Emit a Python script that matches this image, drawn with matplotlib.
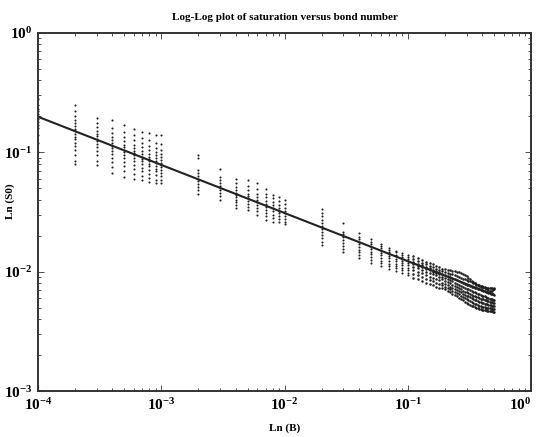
import matplotlib
matplotlib.use("Agg")
from matplotlib import pyplot as plt

# fitted line (end points)
line_b = [1e-4, 0.5]
line_s0 = [0.198, 0.0064]

# vertical clusters of points, one per bond number
cluster_b = [1e-4, 2e-4, 3e-4, 4e-4, 5e-4, 6e-4, 7e-4, 8e-4, 9e-4, 1e-3,
             2e-3, 3e-3, 4e-3, 5e-3, 6e-3, 7e-3, 8e-3, 9e-3, 1e-2,
             0.02, 0.03, 0.04, 0.05, 0.06, 0.07, 0.08, 0.09, 0.1]
cluster_s0 = [
    [0.085, 0.10, 0.12, 0.14, 0.16, 0.17, 0.18, 0.19, 0.20, 0.21, 0.22, 0.23, 0.25, 0.28],
    [0.079, 0.085, 0.094, 0.104, 0.112, 0.120, 0.128, 0.135, 0.142, 0.150, 0.157, 0.165, 0.174, 0.185, 0.20, 0.22, 0.248],
    [0.078, 0.085, 0.094, 0.102, 0.110, 0.117, 0.124, 0.130, 0.136, 0.143, 0.152, 0.163, 0.176, 0.193],
    [0.067, 0.075, 0.083, 0.090, 0.097, 0.103, 0.108, 0.113, 0.119, 0.126, 0.134, 0.145, 0.160, 0.186],
    [0.062, 0.069, 0.076, 0.083, 0.089, 0.095, 0.100, 0.105, 0.110, 0.116, 0.123, 0.133, 0.148, 0.168],
    [0.060, 0.066, 0.072, 0.078, 0.084, 0.089, 0.094, 0.098, 0.103, 0.109, 0.116, 0.126, 0.140, 0.156],
    [0.058, 0.063, 0.069, 0.074, 0.079, 0.084, 0.088, 0.092, 0.097, 0.103, 0.110, 0.120, 0.132, 0.147],
    [0.056, 0.061, 0.066, 0.071, 0.076, 0.080, 0.084, 0.088, 0.092, 0.097, 0.104, 0.113, 0.126, 0.144],
    [0.055, 0.059, 0.064, 0.069, 0.073, 0.077, 0.081, 0.085, 0.089, 0.094, 0.100, 0.108, 0.120, 0.139],
    [0.055, 0.059, 0.063, 0.067, 0.071, 0.075, 0.078, 0.082, 0.086, 0.091, 0.097, 0.105, 0.118, 0.139],
    [0.045, 0.048, 0.051, 0.054, 0.057, 0.060, 0.063, 0.067, 0.071, 0.090, 0.094],
    [0.040, 0.043, 0.046, 0.048, 0.050, 0.052, 0.055, 0.058, 0.062, 0.072],
    [0.034, 0.036, 0.038, 0.040, 0.042, 0.044, 0.046, 0.048, 0.051, 0.055, 0.060],
    [0.033, 0.035, 0.037, 0.039, 0.041, 0.043, 0.045, 0.048, 0.052, 0.058],
    [0.030, 0.032, 0.034, 0.036, 0.038, 0.040, 0.042, 0.045, 0.049, 0.055],
    [0.027, 0.029, 0.031, 0.033, 0.035, 0.037, 0.039, 0.042, 0.045, 0.049],
    [0.026, 0.028, 0.030, 0.032, 0.034, 0.036, 0.038, 0.041, 0.044],
    [0.026, 0.0275, 0.029, 0.031, 0.0325, 0.034, 0.036, 0.039, 0.042],
    [0.025, 0.026, 0.0275, 0.029, 0.031, 0.0325, 0.034, 0.037, 0.040],
    [0.0166, 0.0178, 0.019, 0.0202, 0.0215, 0.0228, 0.024, 0.0255, 0.027, 0.029, 0.031, 0.0334],
    [0.0145, 0.0155, 0.0165, 0.0175, 0.0185, 0.0195, 0.0205, 0.0215, 0.0254],
    [0.0129, 0.0137, 0.0145, 0.0153, 0.0161, 0.0169, 0.0177, 0.0186, 0.0196, 0.0209],
    [0.0119, 0.0126, 0.0133, 0.014, 0.0147, 0.0154, 0.0162, 0.017, 0.0178, 0.0186],
    [0.0112, 0.0118, 0.0124, 0.013, 0.0137, 0.0144, 0.015, 0.0157, 0.0164, 0.0171],
    [0.0106, 0.0111, 0.0117, 0.0123, 0.0129, 0.0135, 0.0141, 0.0147, 0.0153, 0.0159],
    [0.0102, 0.0107, 0.0112, 0.0117, 0.0122, 0.0128, 0.0134, 0.0139, 0.0145, 0.015],
    [0.0098, 0.0103, 0.0108, 0.0113, 0.0118, 0.0123, 0.0128, 0.0133, 0.0139, 0.0144],
    [0.0093, 0.0098, 0.0103, 0.0108, 0.0113, 0.0118, 0.0122, 0.0127, 0.0133, 0.0139],
]

# dense tail above B = 0.1, eight point tracks (S0 in units of 1e-3)
tail_b = [0.11, 0.12, 0.13, 0.14, 0.15, 0.16, 0.17, 0.18, 0.19, 0.20,
          0.21, 0.22, 0.23, 0.24, 0.25, 0.26, 0.27, 0.28, 0.29, 0.30,
          0.31, 0.32, 0.33, 0.34, 0.35, 0.36, 0.37, 0.38, 0.39, 0.40,
          0.41, 0.42, 0.43, 0.44, 0.45, 0.46, 0.47, 0.48, 0.49, 0.50]
tail_s0_milli = [
    [13.4, 12.9, 12.5, 12.1, 11.8, 11.5, 11.2, 11.0, 10.6, 10.5,
     10.4, 10.3, 10.2, 10.1, 10.0, 9.9, 9.75, 9.6, 9.4, 9.2,
     8.9, 8.6, 8.4, 8.2, 8.0, 7.8, 7.7, 7.6, 7.5, 7.4,
     7.4, 7.35, 7.35, 7.3, 7.3, 7.3, 7.25, 7.25, 7.2, 7.2],
    [12.7, 12.2, 11.9, 11.5, 11.2, 10.9, 10.6, 10.4, 10.1, 9.9,
     9.7, 9.6, 9.5, 9.35, 9.2, 9.05, 8.9, 8.75, 8.6, 8.5,
     8.4, 8.3, 8.2, 8.1, 8.0, 7.9, 7.8, 7.7, 7.65, 7.6,
     7.5, 7.4, 7.3, 7.1, 7.0, 6.9, 6.85, 6.9, 7.1, 7.3],
    [12.1, 11.7, 11.3, 11.0, 10.7, 10.4, 10.1, 9.9, 9.6, 9.4,
     9.2, 9.0, 8.8, 8.6, 8.45, 8.3, 8.15, 8.0, 7.9, 7.8,
     7.7, 7.6, 7.5, 7.4, 7.35, 7.3, 7.2, 7.1, 7.05, 7.0,
     6.9, 6.85, 6.8, 6.7, 6.65, 6.6, 6.55, 6.5, 6.45, 6.4],
    [11.6, 11.2, 10.9, 10.5, 10.3, 10.0, 9.75, 9.5, 9.1, 8.9,
     8.7, 8.5, 8.3, 8.1, 7.95, 7.8, 7.65, 7.5, 7.35, 7.2,
     7.1, 7.0, 6.9, 6.8, 6.7, 6.6, 6.5, 6.45, 6.35, 6.3,
     6.25, 6.2, 6.1, 6.05, 6.0, 5.95, 5.9, 5.85, 5.8, 5.8],
    [11.0, 10.7, 10.3, 10.0, 9.7, 9.5, 9.3, 9.05, 8.6, 8.4,
     8.2, 8.0, 7.8, 7.6, 7.4, 7.25, 7.1, 6.95, 6.8, 6.7,
     6.6, 6.5, 6.4, 6.3, 6.2, 6.15, 6.1, 6.0, 5.95, 5.9,
     5.85, 5.8, 5.75, 5.7, 5.65, 5.6, 5.6, 5.55, 5.5, 5.5],
    [10.3, 10.0, 9.7, 9.4, 9.1, 8.9, 8.7, 8.5, 8.1, 7.9,
     7.7, 7.5, 7.3, 7.15, 7.0, 6.85, 6.7, 6.55, 6.4, 6.3,
     6.2, 6.1, 6.0, 5.9, 5.8, 5.75, 5.7, 5.6, 5.55, 5.5,
     5.45, 5.4, 5.4, 5.35, 5.3, 5.3, 5.25, 5.2, 5.2, 5.2],
    [9.6, 9.3, 9.0, 8.7, 8.5, 8.3, 8.1, 7.9, 7.7, 7.5,
     7.3, 7.1, 6.9, 6.75, 6.6, 6.45, 6.3, 6.15, 6.0, 5.9,
     5.8, 5.7, 5.6, 5.5, 5.4, 5.35, 5.3, 5.2, 5.15, 5.1,
     5.1, 5.05, 5.0, 5.0, 5.0, 4.95, 4.95, 4.9, 4.9, 4.9],
    [8.9, 8.6, 8.3, 8.1, 7.9, 7.7, 7.5, 7.3, 7.3, 7.1,
     6.9, 6.7, 6.5, 6.35, 6.2, 6.05, 5.9, 5.75, 5.6, 5.5,
     5.4, 5.3, 5.2, 5.15, 5.1, 5.0, 4.95, 4.9, 4.85, 4.8,
     4.8, 4.75, 4.75, 4.7, 4.7, 4.7, 4.65, 4.65, 4.6, 4.6],
]

x_ticks = [1e-4, 1e-3, 1e-2, 1e-1, 1]
x_ticklabels = ['$\\mathdefault{10^{-4}}$', '$\\mathdefault{10^{-3}}$',
                '$\\mathdefault{10^{-2}}$', '$\\mathdefault{10^{-1}}$',
                '$\\mathdefault{10^{0}}$']

plt.rcParams['font.family'] = ['Liberation Serif', 'DejaVu Serif']
plt.rcParams['font.weight'] = 'bold'

fig = plt.figure(figsize=(5.37, 4.37), dpi=100, facecolor='white')
ax = fig.add_axes([0.071, 0.105, 0.918, 0.82])

dot = dict(linestyle='none', marker='.', markersize=3.0, color='#1e1e1e',
           markeredgewidth=0)
for b, s0 in zip(cluster_b, cluster_s0):
    ax.plot([b] * len(s0), s0, **dot)
for track in tail_s0_milli:
    ax.plot(tail_b, [v * 1e-3 for v in track], **dict(dot, markersize=3.6))

ax.plot(line_b, line_s0, color='#222222', linewidth=1.5)

ax.set_xscale('log')
ax.set_yscale('log')
ax.set_xlim(1e-4, 1)
ax.set_ylim(1e-3, 1)
ax.set_xticks(x_ticks, labels=x_ticklabels)
ax.get_xticklabels()[-1].set_horizontalalignment('right')

ax.tick_params(which='both', direction='in', top=True, right=True,
               labelsize=11, pad=4, width=0.6, colors='#333333',
               labelcolor='black')
ax.tick_params(which='major', length=4)
ax.tick_params(which='minor', length=2)
for sp in ax.spines.values():
    sp.set_linewidth(1.4)
    sp.set_color('#333333')

ax.set_title('Log-Log plot of saturation versus bond number',
             fontsize=8, fontweight='bold', pad=9)
ax.set_xlabel('Ln (B)', fontsize=8, fontweight='bold', labelpad=8)
ax.set_ylabel('Ln (S0)', fontsize=8, fontweight='bold')
ax.yaxis.set_label_coords(-0.047, 0.53)

fig.savefig('out.png', dpi=100, facecolor='white')
